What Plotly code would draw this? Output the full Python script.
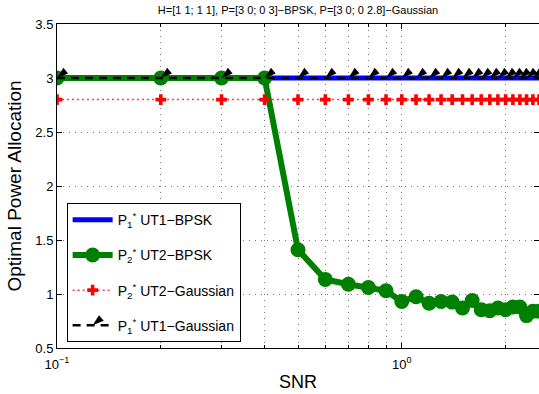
import plotly.graph_objects as go

snr = [0.1, 0.2, 0.3, 0.4, 0.5, 0.6, 0.7, 0.8, 0.9, 1.0, 1.1, 1.2, 1.3,
       1.4, 1.5, 1.6, 1.7, 1.8, 1.9, 2.0, 2.1, 2.2, 2.3, 2.4, 2.5]
p1_bpsk = [3.0] * 25
p2_bpsk = [3.0, 3.0, 3.0, 3.0, 1.41, 1.135, 1.09, 1.06, 1.03, 0.93, 0.975,
           0.915, 0.93, 0.925, 0.87, 0.94, 0.855, 0.845, 0.87, 0.855, 0.88,
           0.88, 0.80, 0.84, 0.84]
p2_gauss = [2.8] * 25
p1_gauss = [3.0] * 25

names = ["P<sub>1</sub><sup>*</sup> UT1−BPSK",
         "P<sub>2</sub><sup>*</sup> UT2−BPSK",
         "P<sub>2</sub><sup>*</sup> UT2−Gaussian",
         "P<sub>1</sub><sup>*</sup> UT1−Gaussian"]

fig = go.Figure()
fig.add_trace(go.Scatter(x=snr, y=p1_bpsk, mode="lines", name=names[0], legendgroup="a",
                         line=dict(color="#0000ff", width=5)))
fig.add_trace(go.Scatter(x=snr, y=p2_bpsk, mode="lines+markers", name=names[1], legendgroup="b",
                         line=dict(color="#008000", width=6),
                         marker=dict(symbol="circle", size=15, color="#008000")))
fig.add_trace(go.Scatter(x=snr, y=p2_gauss, mode="lines+markers", name=names[2], legendgroup="c",
                         line=dict(color="#ff4040", width=1.5, dash="2px,3px"),
                         marker=dict(symbol="cross", size=9, color="#ff0000")))
fig.add_trace(go.Scatter(x=snr, y=p1_gauss, mode="lines+markers", name=names[3], legendgroup="d",
                         line=dict(color="#000000", width=2.5, dash="8px,6px"),
                         marker=dict(symbol="arrow", size=12, angle=-130, color="#000000")))

grid_dash = "1px,5px"
axis_common = dict(showline=True, linecolor="black", linewidth=1, mirror="ticks",
                   ticks="inside", ticklen=5, tickcolor="black",
                   showgrid=True, gridcolor="#777777", griddash=grid_dash, gridwidth=1,
                   zeroline=False, tickfont=dict(family="Liberation Sans, Arial", size=13, color="black"))

fig.update_xaxes(type="log", range=[-1, 0.39794],
                 tickvals=[0.1, 1], ticktext=["10<sup>−1</sup>", "10<sup>0</sup>"],
                 ticklabelstandoff=4,
                 minor=dict(dtick="D1", showgrid=True, gridcolor="#777777", griddash=grid_dash,
                            ticks="inside", ticklen=3, tickcolor="black"),
                 title=dict(text="SNR", font=dict(family="Liberation Sans, Arial", size=18, color="black"),
                            standoff=4),
                 **axis_common)
fig.update_yaxes(range=[0.5, 3.5], dtick=0.5, tick0=0.5,
                 title=dict(text="Optimal Power Allocation",
                            font=dict(family="Liberation Sans, Arial", size=19, color="black"),
                            standoff=8),
                 **axis_common)

fig.update_layout(
    width=539, height=394,
    margin=dict(l=57, r=0, t=24, b=46),
    paper_bgcolor="white", plot_bgcolor="white",
    title=dict(text="H=[1 1; 1 1], P=[3 0; 0 3]−BPSK, P=[3 0; 0 2.8]−Gaussian",
               x=0.553, xanchor="center", y=0.985, yanchor="top",
               font=dict(family="Liberation Sans, Arial", size=11, color="black")),
    legend=dict(x=0.02, xanchor="left", y=0.018, yanchor="bottom",
                bgcolor="white", bordercolor="black", borderwidth=1,
                font=dict(family="Liberation Sans, Arial", size=14, color="black"),
                itemwidth=40, tracegroupgap=14),
    showlegend=True,
)

fig.write_html("out.html")
